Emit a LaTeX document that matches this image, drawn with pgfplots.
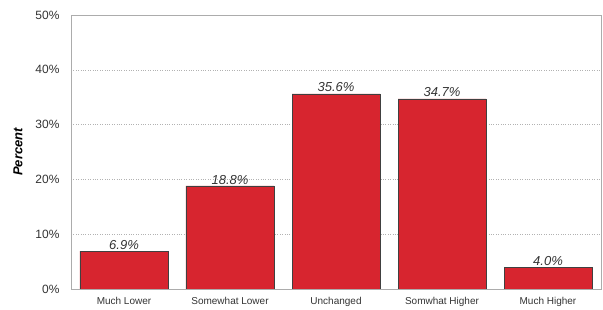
\documentclass[border=0pt]{standalone}
\usepackage{pgfplots}
\pgfplotsset{compat=1.18}
\usepackage{fontspec}
\setmainfont{Liberation Sans}
\definecolor{barred}{HTML}{D7252F}
\begin{document}
\begin{tikzpicture}[x=1pt,y=1pt]
\path[use as bounding box] (-71,-21) rectangle (532,289);
\begin{axis}[
  at={(0,0)}, anchor=south west,
  scale only axis, width=530pt, height=274pt,
  ymin=0, ymax=50, xmin=-0.5, xmax=4.5,
  ytick={0,10,20,30,40,50},
  yticklabel={\pgfmathprintnumber{\tick}\%},
  /pgf/number format/assume math mode=true,
  xtick=data,
  xticklabels={Much Lower,Somewhat Lower,Unchanged,Somwhat Higher,Much Higher},
  major tick length=0pt,
  ymajorgrids,
  grid style={dotted, gray!60},
  axis line style={gray!65, line width=0.8pt},
  tick label style={text=black!80},
  yticklabel style={font=\fontsize{12}{14}\selectfont, xshift=-8pt},
  xticklabel style={font=\fontsize{10}{12}\selectfont, yshift=-5pt},
  ylabel={\bfseries\itshape Percent},
  ylabel style={font=\fontsize{13}{15}\selectfont, at={(-53pt,0.5)}, anchor=center},
  ybar, bar width=88pt,
  nodes near coords={\pgfmathprintnumber[fixed,fixed zerofill,precision=1]{\pgfplotspointmeta}\%},
  nodes near coords style={font=\itshape\fontsize{13}{15}\selectfont, text=black!80, inner sep=1.5pt},
]
\addplot[fill=barred, draw=black!75, line width=0.6pt] coordinates {(0,6.9) (1,18.8) (2,35.6) (3,34.7) (4,4.0)};
\end{axis}
\end{tikzpicture}
\end{document}
